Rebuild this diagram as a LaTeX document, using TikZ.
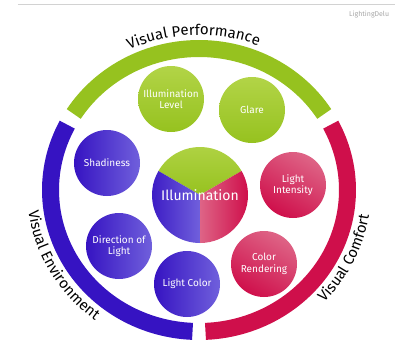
\documentclass[tikz,border=0pt]{standalone}
\usepackage{fontspec}
\setmainfont{Fira Sans}
\usepackage{tikz}
\usetikzlibrary{decorations.text}
\definecolor{perfgreen}{HTML}{96C21F}
\definecolor{lightgreen}{HTML}{B2D447}
\definecolor{envblue}{HTML}{3613C2}
\definecolor{lightblue}{HTML}{7060DC}
\definecolor{comfred}{HTML}{CF0F4B}
\definecolor{lightred}{HTML}{DE6486}
\tikzset{
ring/.style={ % Sets the properties for each outer arc
line width=17pt},
topic/.style={ % Sets the properties for each small circle
circle,
minimum size=66pt,
inner sep=0pt,
text=white,
align=center,
font=\fontsize{10}{11.5}\selectfont},
greentopic/.style={topic, top color=lightgreen, bottom color=perfgreen},
bluetopic/.style={topic, left color=envblue, right color=lightblue},
redtopic/.style={topic, left color=lightred, right color=comfred, shading angle=-30},
label/.style={ % Text running along an arc
decorate,
decoration={text along path, text align=center,
text={|\fontsize{15}{15}\selectfont|#1}}}}

\begin{document}
\begin{tikzpicture}[x=1pt,y=1pt]
\useasboundingbox (-199,-159) rectangle (196,190);
\draw[gray!35] (-181,186) -- (196,186);
\node[gray!70, anchor=west, inner sep=0pt, font=\fontsize{7}{7}\selectfont] (logo) at (150,175) {LightingDelu};

% outer ring
\draw[ring, perfgreen] (32.5:148.5 and 141.5) arc[start angle=32.5, end angle=147.5, x radius=148.5, y radius=141.5];
\draw[ring, envblue] (152.5:148.5 and 141.5) arc[start angle=152.5, end angle=267.5, x radius=148.5, y radius=141.5];
\draw[ring, comfred] (-87.5:148.5 and 141.5) arc[start angle=-87.5, end angle=27.5, x radius=148.5, y radius=141.5];

\path[label=Visual Performance] (127:162 and 155) arc[start angle=127, end angle=57, x radius=162, y radius=155];
\path[label=Visual Environment] (180:172 and 164) arc[start angle=180, end angle=240, x radius=172, y radius=164];
\path[label=Visual Comfort] (-50:172 and 164) arc[start angle=-50, end angle=-2, x radius=172, y radius=164];

% centre
\shade[top color=lightgreen, bottom color=perfgreen] (1,-5) -- ++(30:48) arc[start angle=30, end angle=150, radius=48] -- cycle;
\shade[left color=envblue, right color=lightblue] (1,-5) -- ++(150:48) arc[start angle=150, end angle=270, radius=48] -- cycle;
\shade[left color=lightred, right color=comfred] (1,-5) -- ++(270:48) arc[start angle=270, end angle=390, radius=48] -- cycle;
\node[text=white, font=\fontsize{14}{14}\selectfont] (illum) at (1,-5) {Illumination};

\node[greentopic] (level) at (-28,91) {Illumination\\Level};
\node[greentopic] (glare) at (53,80) {Glare};
\node[bluetopic] (shadiness) at (-92,27) {Shadiness};
\node[bluetopic] (direction) at (-80,-56) {Direction of\\Light};
\node[bluetopic] (lightcolor) at (-12,-94) {Light Color};
\node[redtopic] (intensity) at (94,5) {Light\\Intensity};
\node[redtopic] (rendering) at (65,-74) {Color\\Rendering};
\end{tikzpicture}
\end{document}
